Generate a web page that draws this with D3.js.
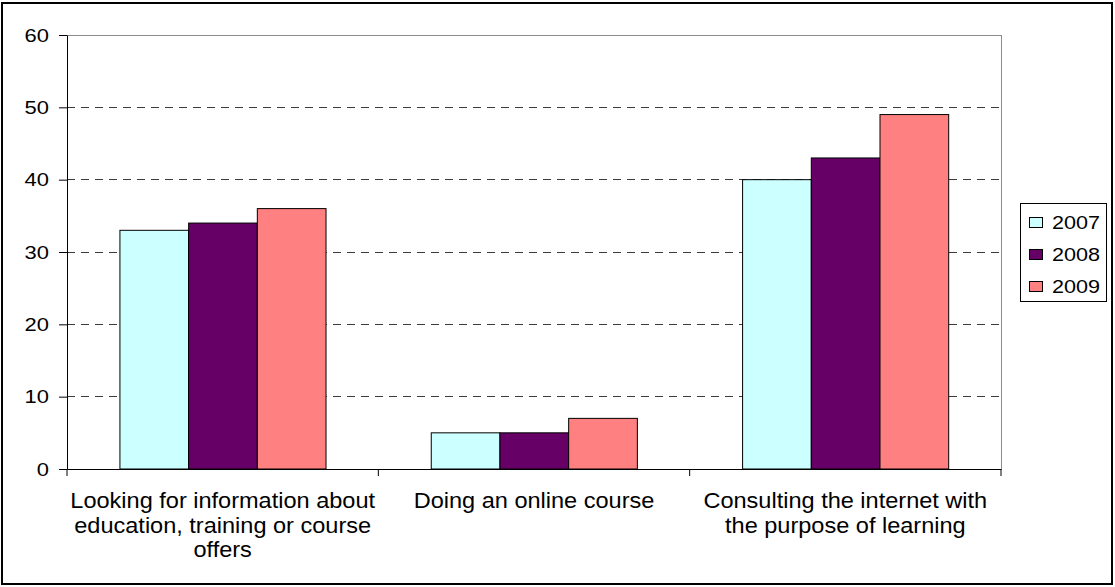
<!DOCTYPE html>
<html>
<head>
<meta charset="utf-8">
<script src="https://cdn.jsdelivr.net/npm/d3@7"></script>
<style>
  html, body { margin: 0; padding: 0; background: #fff; }
  svg { display: block; }
  text { font-family: "Liberation Sans", Arial, sans-serif; fill: #000; }
</style>
</head>
<body>
<svg id="chart" width="1115" height="587"></svg>
<script>
const categories = [
  "Looking for information about education, training or course offers",
  "Doing an online course",
  "Consulting the internet with the purpose of learning"
];
const categoryLines = [
  ["Looking for information about", "education, training or course", "offers"],
  ["Doing an online course"],
  ["Consulting the internet with", "the purpose of learning"]
];
const years = ["2007", "2008", "2009"];
const values2007 = [33, 5, 40];
const values2008 = [34, 5, 43];
const values2009 = [36, 7, 49];
const yTicks = [0, 10, 20, 30, 40, 50, 60];
const colors = ["#CCFFFF", "#660066", "#FF8080"];

const seriesValues = [values2007, values2008, values2009];

const svg = d3.select("#chart");
const plot = { left: 67, right: 1001, top: 35, bottom: 469 };

// outer frame
svg.append("rect")
  .attr("x", 2).attr("y", 3).attr("width", 1110).attr("height", 581)
  .attr("fill", "none").attr("stroke", "#000").attr("stroke-width", 2);

const x0 = d3.scaleBand().domain(categories).range([plot.left, plot.right]).padding(0);
const bw = x0.bandwidth();
const x1 = d3.scaleBand().domain(years).range([0.17 * bw, 0.832 * bw]).padding(0);
const y = d3.scaleLinear().domain([0, 60]).range([plot.bottom, plot.top]);

// gridlines (dashed)
svg.append("g").selectAll("line")
  .data(yTicks.filter(t => t > 0 && t < 60))
  .join("line")
  .attr("x1", plot.left).attr("x2", plot.right)
  .attr("y1", d => y(d)).attr("y2", d => y(d))
  .attr("stroke", "#3a3a3a").attr("stroke-width", 1)
  .attr("stroke-dasharray", "8,6")
  .attr("shape-rendering", "crispEdges");

// plot-area border (top & right, gray)
svg.append("path")
  .attr("d", `M${plot.left},${y(60)}H${plot.right}V${plot.bottom}`)
  .attr("fill", "none").attr("stroke", "#8c8c8c").attr("stroke-width", 1)
  .attr("shape-rendering", "crispEdges");

// bars
const groups = svg.append("g").selectAll("g")
  .data(categories)
  .join("g")
  .attr("transform", d => `translate(${x0(d)},0)`);

groups.selectAll("rect")
  .data((c, i) => years.map((yr, j) => ({ yr, v: seriesValues[j][i], j })))
  .join("rect")
  .attr("x", d => x1(d.yr))
  .attr("y", d => y(d.v))
  .attr("width", x1.bandwidth())
  .attr("height", d => y(0) - y(d.v))
  .attr("fill", d => colors[d.j])
  .attr("stroke", "#000").attr("stroke-width", 1);

// y axis
const yAxis = svg.append("g")
  .attr("transform", `translate(${plot.left},0)`)
  .call(d3.axisLeft(y).tickValues(yTicks).tickSize(8).tickSizeOuter(0));
yAxis.select(".domain").attr("stroke", "#000");
yAxis.selectAll(".tick line").attr("stroke", "#000");
yAxis.selectAll(".tick text")
  .attr("x", null).attr("dy", "0.34em")
  .attr("transform", "translate(-18,0) scale(1.22,1)")
  .style("font-size", "18px")
  .attr("text-anchor", "end");

// x axis
const xAxis = svg.append("g")
  .attr("transform", `translate(0,${plot.bottom})`)
  .call(d3.axisBottom(x0).tickSize(0).tickFormat(""));
xAxis.select(".domain").attr("stroke", "#000");
// boundary tick marks
xAxis.append("g").selectAll("line")
  .data(categories.map(c => x0(c)).concat([plot.right]))
  .join("line")
  .attr("x1", d => d).attr("x2", d => d)
  .attr("y1", 0).attr("y2", 7)
  .attr("stroke", "#000");

// category labels
const lbl = svg.append("g");
categories.forEach((c, i) => {
  const cx = x0(c) + bw / 2;
  categoryLines[i].forEach((line, k) => {
    lbl.append("text")
      .attr("transform", `translate(${cx},${508 + k * 24.5}) scale(1.07,1)`)
      .attr("text-anchor", "middle")
      .style("font-size", "22px")
      .text(line);
  });
});

// legend
const leg = svg.append("g");
leg.append("rect")
  .attr("x", 1020.5).attr("y", 203.5).attr("width", 86).attr("height", 98)
  .attr("fill", "#fff").attr("stroke", "#000").attr("stroke-width", 1);
years.forEach((yr, j) => {
  const cy = 223 + j * 32;
  leg.append("rect")
    .attr("x", 1029.5).attr("y", cy - 5.5).attr("width", 13).attr("height", 10)
    .attr("fill", colors[j]).attr("stroke", "#000").attr("stroke-width", 1);
  leg.append("text")
    .attr("transform", `translate(1052,${cy + 6}) scale(1.2,1)`)
    .style("font-size", "18px")
    .text(yr);
});
</script>
</body>
</html>
